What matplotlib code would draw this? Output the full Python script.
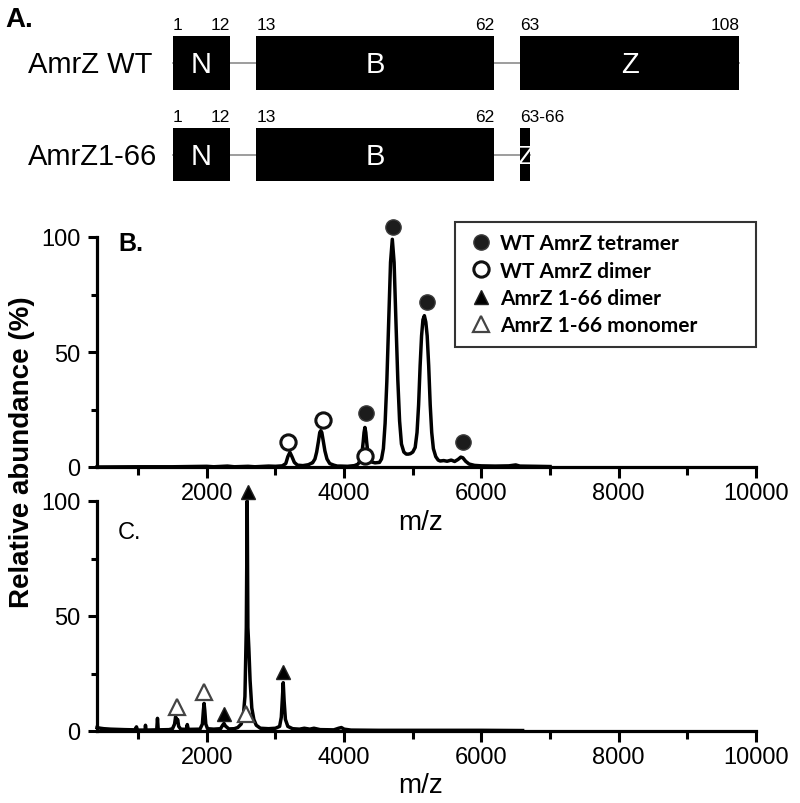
import numpy as np
import matplotlib.pyplot as plt
from matplotlib.lines import Line2D
from matplotlib.patches import Rectangle

plt.rcParams['font.family'] = ['Liberation Sans', 'DejaVu Sans']

# Painel A: domínios (resíduos)
dominios = ['N', 'B', 'Z']
inicio_wt = [1, 13, 63]
fim_wt = [12, 62, 108]
rot_ini_wt = ['1', '13', '63']
rot_fim_wt = ['12', '62', '108']
inicio_166 = [1, 13, 63]
fim_166 = [12, 62, 64]
rot_ini_166 = ['1', '13', '63-66']
rot_fim_166 = ['12', '62', '']

# Painel B: espectro WT AmrZ (m/z, %)
mz_b = [400, 1000, 1500, 2000, 2100, 2300, 2400, 2600, 2700, 2900, 3000, 3100, 3150,
        3180, 3210, 3240, 3275, 3320, 3400, 3480, 3520, 3540, 3575, 3600, 3625, 3645,
        3660, 3675, 3695, 3720, 3750, 3790, 3850, 3900, 3950, 4050, 4150, 4200, 4240,
        4260, 4278, 4290, 4303, 4316, 4328, 4346, 4366, 4400, 4450,
        4515, 4545, 4572, 4597, 4622, 4650, 4676, 4702, 4728, 4754, 4782, 4808, 4835,
        4870, 4905, 4935, 4965, 5000, 5035, 5062, 5085, 5107, 5128, 5148, 5169, 5190,
        5210, 5232, 5254, 5276, 5300, 5335, 5370, 5400, 5450, 5500, 5560, 5610, 5660,
        5700, 5730, 5770, 5820, 5900, 6000, 6200, 6400, 6500, 6560, 6800, 7000]
ab_b = [0.0, 0.1, 0.1, 0.3, 0.1, 0.4, 0.1, 0.3, 0.1, 0.4, 0.3, 0.5, 1.5,
        4.5, 6.4, 4.5, 2.0, 0.8, 0.6, 1.0, 1.6, 1.8, 3.5, 6.5, 11, 15,
        15.8, 15, 11.5, 7, 3.5, 1.5, 0.8, 0.4, 0.4, 0.3, 0.6, 1.2, 3,
        6, 11, 15, 17.2, 15, 11, 6, 3.5, 2.2, 1.8,
        2.0, 3.5, 8, 19, 37, 64, 89, 99, 89, 64, 38, 20, 10,
        6.5, 5.6, 5.6, 5.8, 6.5, 8.5, 15, 27, 44, 57, 64, 65.8, 63,
        57, 44, 27, 15, 8, 4.5, 3, 2.6, 2.8, 2.5, 3, 2.4, 3.3,
        4.3, 4, 2.5, 1.3, 0.7, 0.5, 0.4, 0.5, 0.9, 0.4, 0.3, 0.2]

# Painel C: espectro AmrZ 1-66 (m/z, %)
mz_c = [400, 450, 500, 600, 800, 950, 975, 990, 1100, 1106, 1115, 1270, 1281, 1292,
        1450, 1500, 1530, 1545, 1560, 1575, 1590, 1620, 1700, 1715, 1730, 1900, 1935,
        1950, 1960, 1970, 1985, 2010, 2100, 2200, 2230, 2250, 2270, 2320, 2400, 2450,
        2500, 2530, 2555, 2575, 2588, 2598, 2612, 2630, 2655, 2685, 2720, 2780, 2900,
        3000, 3060, 3085, 3100, 3113, 3126, 3145, 3180, 3250, 3350, 3420, 3500, 3560,
        3650, 3850, 3920, 3960, 4000, 4100, 4500, 5000, 5500, 6000, 6600]
ab_c = [1.5, 1.2, 1.0, 0.8, 0.6, 0.5, 1.8, 0.4, 0.4, 2.5, 0.4, 0.5, 5.5, 0.5,
        0.6, 1.0, 3.0, 6.2, 4.0, 5.0, 2.0, 0.8, 0.7, 2.8, 0.7, 0.8, 3.0,
        9, 12, 9, 3, 1.0, 0.8, 1.0, 2.5, 3.3, 2.2, 0.9, 1.0, 1.5,
        3, 6, 15, 45, 100, 45, 36, 22, 10, 5, 2.5, 1.2, 1.0,
        1.2, 2, 6, 14, 21, 13, 5, 2, 1.0, 0.8, 1.2, 0.8, 1.2,
        0.6, 0.5, 1.2, 1.5, 0.8, 0.4, 0.3, 0.3, 0.3, 0.3, 0.2]

# marcadores (m/z, altura)
tetramero_mz = [4314, 4707, 5200, 5730]
tetramero_y = [23.5, 104.5, 71.6, 11]
dimero_wt_mz = [3185, 3690, 4300]
dimero_wt_y = [11, 20.5, 5]
dimero_166_mz = [2250, 2595, 3113]
dimero_166_y = [7.4, 104, 25.8]
monomero_166_mz = [1560, 1960, 2570]
monomero_166_y = [10.3, 16.8, 7.4]

legenda = ['WT AmrZ tetramer', 'WT AmrZ dimer', 'AmrZ 1-66 dimer', 'AmrZ 1-66 monomer']

fig = plt.figure(figsize=(8, 8.04), dpi=100)

# ---------------- Painel A ----------------
ax_a = fig.add_axes([0, 1 - 200 / 804, 1, 200 / 804])
ax_a.set_xlim(-36.34, 131.72)
ax_a.set_ylim(200, 0)
ax_a.axis('off')

gap = 5.5
linhas = [('AmrZ WT', 64, inicio_wt, fim_wt, rot_ini_wt, rot_fim_wt),
          ('AmrZ1-66', 155.7, inicio_166, fim_166, rot_ini_166, rot_fim_166)]
for nome, yc, ini, fim, r_ini, r_fim in linhas:
    x0 = [s - 1 + gap * i for i, s in enumerate(ini)]
    x1 = [e + gap * i for i, e in enumerate(fim)]
    ax_a.plot([x0[0], x1[-1]], [yc, yc], color='#8c8c8c', lw=1.2, zorder=1)
    for i in range(len(dominios)):
        ax_a.add_patch(Rectangle((x0[i], yc - 26.7), x1[i] - x0[i], 53.4,
                                 fc='black', ec='none', zorder=2))
        tam = 21 if x1[i] - x0[i] > 5 else 19
        ax_a.text((x0[i] + x1[i]) / 2, yc + 1, dominios[i], color='white',
                  ha='center', va='center', fontsize=tam, zorder=3)
        ax_a.text(x0[i], yc - 33.5, r_ini[i], ha='left', va='baseline', fontsize=12.5)
        if r_fim[i]:
            ax_a.text(x1[i], yc - 33.5, r_fim[i], ha='right', va='baseline', fontsize=12.5)
    ax_a.text(-30.5, yc + 1, nome, ha='left', va='center', fontsize=21)
ax_a.text(-35.3, 20, 'A.', ha='left', va='center', fontsize=20, fontweight='bold')

# ---------------- Paineis B e C ----------------
ax_b = fig.add_axes([97 / 800, 1 - 468 / 804, 659 / 800, 230 / 804])
ax_c = fig.add_axes([97 / 800, 1 - 732 / 804, 659 / 800, 230 / 804])

for ax in (ax_b, ax_c):
    ax.patch.set_visible(False)
    ax.set_xlim(400, 10000)
    ax.set_ylim(0, 100)
    ax.spines[['top', 'right']].set_visible(False)
    ax.spines[['left', 'bottom']].set_linewidth(2.3)
    ax.set_xticks([2000, 4000, 6000, 8000, 10000])
    ax.set_xticks([1000, 3000, 5000, 7000, 9000], minor=True)
    ax.set_yticks([0, 50, 100])
    ax.set_yticks([25, 75], minor=True)
    ax.tick_params(axis='x', which='major', length=8, width=2.2, labelsize=17, pad=3)
    ax.tick_params(axis='x', which='minor', length=6, width=2.2)
    ax.tick_params(axis='y', which='major', length=6.5, width=2.2, labelsize=17, pad=5.5)
    ax.tick_params(axis='y', which='minor', length=4.5, width=2.2)
    ax.set_xlabel('m/z', fontsize=20)

ax_b.xaxis.set_label_coords(0.4917, -0.183)
ax_c.xaxis.set_label_coords(0.4917, -0.178)

ax_b.plot(mz_b, ab_b, color='black', lw=2.5, clip_on=False, zorder=2)
ax_c.plot(mz_c, ab_c, color='black', lw=2.5, clip_on=False, zorder=2)

est_tet = dict(marker='o', ms=11, mfc='#1c1c1c', mec='#3a3a3a', mew=1, ls='none')
est_dim = dict(marker='o', ms=11, mfc='white', mec='#111111', mew=2.2, ls='none')
est_d166 = dict(marker='^', ms=10, mfc='black', mec='#222222', mew=1, ls='none')
est_m166 = dict(marker='^', ms=12, mfc='white', mec='#444444', mew=1.6, ls='none')

ax_b.plot(tetramero_mz, tetramero_y, clip_on=False, zorder=4, **est_tet)
ax_b.plot(dimero_wt_mz, dimero_wt_y, clip_on=False, zorder=3, **est_dim)
ax_c.plot(dimero_166_mz, dimero_166_y, clip_on=False, zorder=4, **est_d166)
ax_c.plot(monomero_166_mz, monomero_166_y, clip_on=False, zorder=3, **est_m166)

ax_b.text(0.032, 1.026, 'B.', transform=ax_b.transAxes, ha='left', va='top',
          fontsize=18, fontweight='bold')
ax_c.text(0.031, 0.913, 'C.', transform=ax_c.transAxes, ha='left', va='top',
          fontsize=17)

handles = [Line2D([], [], **est_tet), Line2D([], [], **est_dim),
           Line2D([], [], **est_d166), Line2D([], [], **est_m166)]
leg = ax_b.legend(handles, legenda, loc='upper left', mode='expand',
                  bbox_to_anchor=(455 / 800, 1 - 346 / 804, 301 / 800, 123 / 804),
                  bbox_transform=fig.transFigure, frameon=True, fancybox=False,
                  prop={'family': ['Lato', 'DejaVu Sans'], 'weight': 'bold', 'size': 15},
                  handlelength=1.4, handletextpad=0.2, labelspacing=0.35,
                  borderpad=0.55, borderaxespad=0)
leg.get_frame().set_edgecolor('black')
leg.get_frame().set_linewidth(1.5)

fig.text(22 / 800, 1 - 452 / 804, 'Relative abundance (%)', rotation=90,
         ha='center', va='center', fontsize=20, fontweight='bold')

fig.savefig('out.png', dpi=100)
